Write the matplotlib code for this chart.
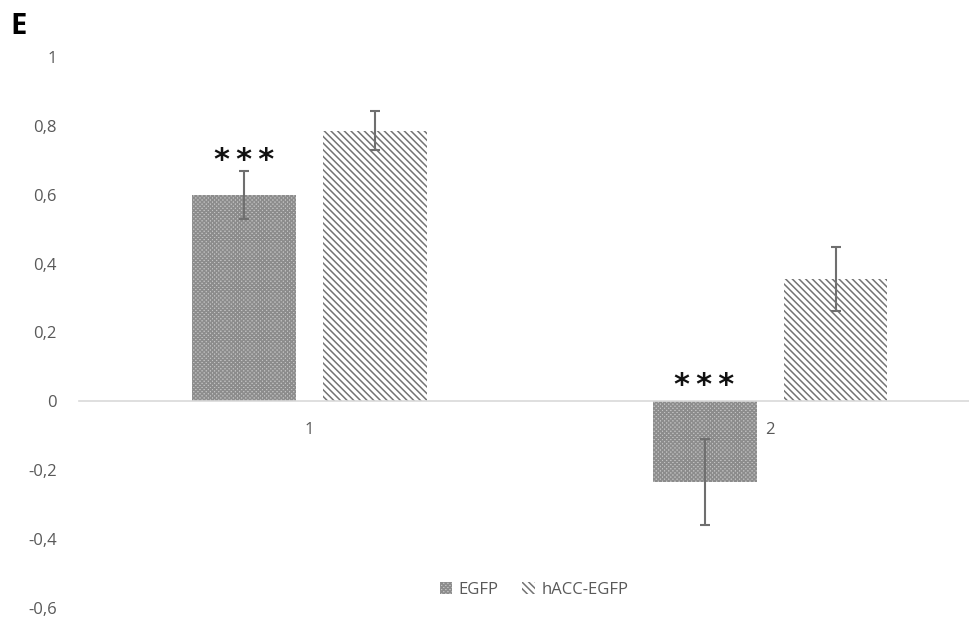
import matplotlib
matplotlib.use('Agg')
import matplotlib.pyplot as plt
import numpy as np

categories = ['1', '2']
series_names = ['EGFP', 'hACC-EGFP']
egfp_vals = [0.60, -0.234]
egfp_err = [0.07, 0.126]
hacc_vals = [0.786, 0.354]
hacc_err = [0.057, 0.093]
stars = ['*\u2009*\u2009*', '*\u2009*\u2009*']
star_y = [0.70, 0.045]

plt.rcParams['font.family'] = ['Open Sans', 'DejaVu Sans']
plt.rcParams['hatch.linewidth'] = 1.1

fig = plt.figure(figsize=(9.7, 6.17), dpi=100)
ax = fig.add_axes([79 / 970, 1 - 608 / 617, 1 - 79 / 970, (608 - 57) / 617])

x = np.arange(1, len(categories) + 1)
bw = 0.2256
gap = 0.0586
off = bw / 2 + gap / 2

b1 = ax.bar(x - off, egfp_vals, bw, color='#c4c4c4', edgecolor='#8c8c8c',
            hatch='xxxxxxxx', linewidth=0, label=series_names[0])
b2 = ax.bar(x + off, hacc_vals, bw, color='white', edgecolor='#737373',
            hatch='\\\\\\\\\\', linewidth=0, label=series_names[1])

ax.errorbar(x - off, egfp_vals, yerr=egfp_err, fmt='none', ecolor='#6f6f6f',
            elinewidth=1.5, capsize=3.6, capthick=1.5)
ax.errorbar(x + off, hacc_vals, yerr=hacc_err, fmt='none', ecolor='#6f6f6f',
            elinewidth=1.5, capsize=3.6, capthick=1.5)

for xi, s, sy in zip(x - off, stars, star_y):
    ax.text(xi, sy, s, ha='center', va='center', fontsize=22, fontweight='bold',
            family='DejaVu Sans', color='#111111')

ax.set_xlim(0.5, 2.434)
ax.set_ylim(-0.6, 1.0)
yt = np.round(np.arange(-0.6, 1.01, 0.2), 1)
ax.set_yticks(yt)
ax.set_yticklabels([('%g' % v).replace('.', ',') for v in yt])
ax.set_xticks(x)
ax.set_xticklabels(categories)

for s in ['top', 'right', 'left']:
    ax.spines[s].set_visible(False)
ax.spines['bottom'].set_position(('data', 0))
ax.spines['bottom'].set_color('#d9d9d9')
ax.spines['bottom'].set_linewidth(1.2)
ax.tick_params(axis='both', length=0, labelsize=12, labelcolor='#595959')
ax.tick_params(axis='y', pad=16)
ax.tick_params(axis='x', pad=15)

fig.legend(handles=[b1, b2], loc='center', bbox_to_anchor=(534 / 970, 1 - 590 / 617),
           ncol=2, frameon=False, handlelength=0.75, handleheight=0.75,
           handletextpad=0.4, columnspacing=1.4, fontsize=12, labelcolor='#595959')

fig.text(10 / 970, 1 - 26 / 617, 'E', fontsize=21, fontweight='bold', va='center')

fig.savefig('out.png', dpi=100)
